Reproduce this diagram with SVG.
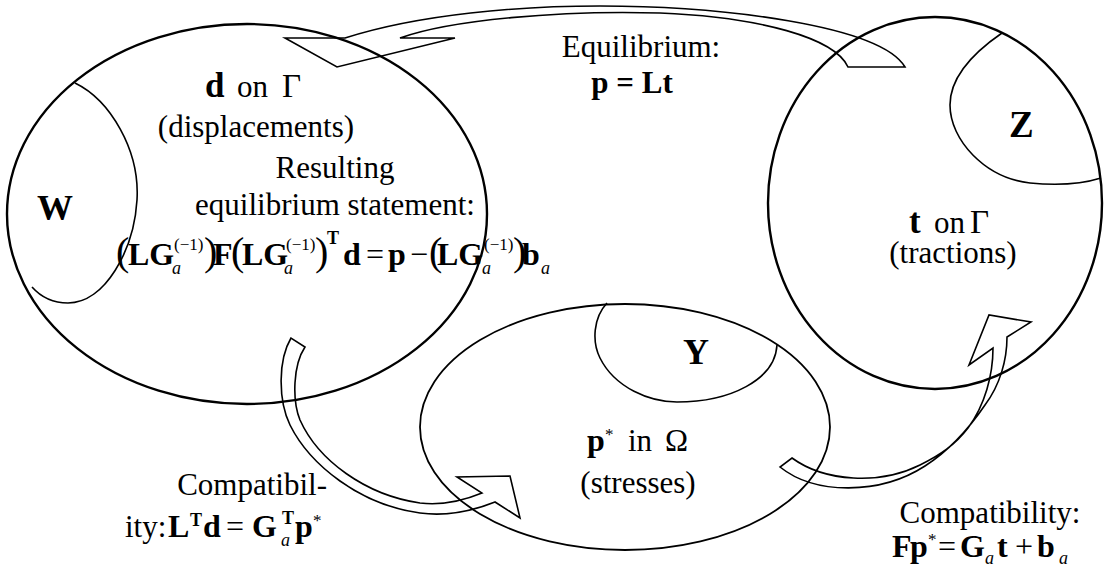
<svg xmlns="http://www.w3.org/2000/svg" width="1112" height="569" viewBox="0 0 1112 569">
<style>
text{font-family:"Liberation Serif","Times New Roman",serif;fill:#000}
.t{font-size:31px}
.b{font-weight:bold;font-size:32px}
.big{font-weight:bold;font-size:36px}
.sub{font-style:italic;font-size:18px}
.sup{font-size:17px}
.supb{font-weight:bold;font-size:18px}
.par{font-size:40px}
.main{fill:none;stroke:#000;stroke-width:2.4}
.arc{fill:none;stroke:#000;stroke-width:1.6}
.arrow{fill:none;stroke:#000;stroke-width:1.6;stroke-linejoin:miter}
</style>
<rect width="1112" height="569" fill="#fff"/>

<g id="node-displacements">
<ellipse class="main" cx="247" cy="214" rx="240" ry="190"/>
<path class="arc" d="M75,83 C110,100 140,150 137,200 C134,250 105,303 68,303 C52,303 40,296 32,287"/>
<text class="big" x="37" y="220">W</text>
<text x="205" y="97"><tspan style="font-weight:bold;font-size:35px">d</tspan><tspan class="t" x="237">on</tspan><tspan class="t" x="282" style="font-size:33px">Γ</tspan></text>
<text class="t" x="256" y="137" text-anchor="middle">(displacements)</text>
<text class="t" x="335" y="178" text-anchor="middle">Resulting</text>
<text class="t" x="335" y="215" text-anchor="middle">equilibrium statement:</text>
<g id="equation">
<text class="par" x="116" y="265">(</text>
<text class="b" x="128" y="265">LG</text>
<text class="sub" x="172" y="274">a</text>
<text class="sup" x="174" y="250">(−1)</text>
<text class="par" x="204" y="265">)</text>
<text class="b" x="213" y="265">F</text>
<text class="par" x="231" y="265">(</text>
<text class="b" x="242" y="265">LG</text>
<text class="sub" x="284" y="274">a</text>
<text class="sup" x="286" y="250">(−1)</text>
<text class="par" x="315" y="265">)</text>
<text class="supb" x="327" y="244">T</text>
<text class="b" x="343" y="265">d</text>
<text class="b" x="366" y="265" style="font-weight:normal">=</text>
<text class="b" x="388" y="265">p</text>
<text class="b" x="410" y="265" style="font-weight:normal">−</text>
<text class="par" x="429" y="265">(</text>
<text class="b" x="437" y="265">LG</text>
<text class="sub" x="482" y="274">a</text>
<text class="sup" x="484" y="250">(−1)</text>
<text class="par" x="513" y="265">)</text>
<text class="b" x="522" y="265">b</text>
<text class="sub" x="541" y="274">a</text>
</g>
</g>

<g id="node-tractions">
<ellipse class="main" cx="935" cy="203" rx="167" ry="186"/>
<path class="arc" d="M1002,33 C970,55 950,80 950,105 C950,140 985,178 1030,183 C1060,186 1085,183 1101,178"/>
<text class="big" x="1009" y="137" style="font-size:37px">Z</text>
<text x="909" y="233"><tspan style="font-weight:bold;font-size:35px">t</tspan><tspan class="t" x="934">on</tspan><tspan class="t" x="970" style="font-size:33px">Γ</tspan></text>
<text class="t" x="953" y="263" text-anchor="middle">(tractions)</text>
</g>

<g id="node-stresses">
<ellipse class="main" cx="625" cy="427" rx="205" ry="123" style="stroke-width:1.8"/>
<path class="arc" d="M607,303 C593,318 592,342 600,358 C615,388 650,402 677,402 C730,402 775,380 777,345"/>
<text class="big" x="683" y="364">Y</text>
<text x="587" y="451"><tspan class="b">p</tspan><tspan class="sup" x="605" y="440">*</tspan><tspan class="t" x="628" y="451">in</tspan><tspan class="t" x="665" y="451">Ω</tspan></text>
<text class="t" x="638" y="493" text-anchor="middle">(stresses)</text>
</g>

<g id="connectors">
<path id="arrow-equilibrium" class="arrow" d="M285,38 L345,38 C420,14 520,6 600,6 C720,6 880,25 905,67 L848,67 C835,38 760,17 660,13 C560,10 450,20 400,38 L455,38 L337,67 Z"/>
<path id="arrow-compat-left" class="arrow" d="M291,338 C278,360 278,400 290,425 C310,465 360,505 420,513 C450,517 475,510 495,502 L520,518 L510,476 L457,477 L482,493 C465,500 445,506 420,503 C365,495 318,460 300,420 C292,400 293,365 305,347 Z"/>
<path id="arrow-compat-right" class="arrow" d="M780,467 C815,495 880,495 925,466 C950,450 968,430 985,405 C1000,385 1007,360 1007,337 L1031,322 L989,315 L969,365 L993,348 C993,375 985,405 968,428 C955,445 940,455 920,465 C880,485 825,482 792,458 Z"/>
</g>

<g id="labels">
<text class="t" x="641" y="57" text-anchor="middle">Equilibrium:</text>
<text class="b" x="632" y="93" text-anchor="middle" style="font-size:31px">p = Lt</text>
<text class="t" x="327" y="495" text-anchor="end">Compatibil-</text>
<text class="t" x="125" y="537">ity:</text>
<text class="b" x="168" y="537">L</text>
<text class="supb" x="190" y="526">T</text>
<text class="b" x="203" y="537">d</text>
<text class="b" x="226" y="537" style="font-weight:normal">=</text>
<text class="b" x="252" y="537">G</text>
<text class="sub" x="281" y="546">a</text>
<text class="supb" x="282" y="524">T</text>
<text class="b" x="295" y="537">p</text>
<text class="sup" x="313" y="526">*</text>
<text class="t" x="990" y="523" text-anchor="middle">Compatibility:</text>
<text class="b" x="892" y="557">F</text>
<text class="b" x="910" y="557">p</text>
<text class="sup" x="928" y="545">*</text>
<text class="b" x="938" y="557" style="font-weight:normal">=</text>
<text class="b" x="960" y="557">G</text>
<text class="sub" x="985" y="564">a</text>
<text class="b" x="997" y="557">t</text>
<text class="b" x="1015" y="557" style="font-weight:normal">+</text>
<text class="b" x="1037" y="557">b</text>
<text class="sub" x="1059" y="564">a</text>
</g>
</svg>
